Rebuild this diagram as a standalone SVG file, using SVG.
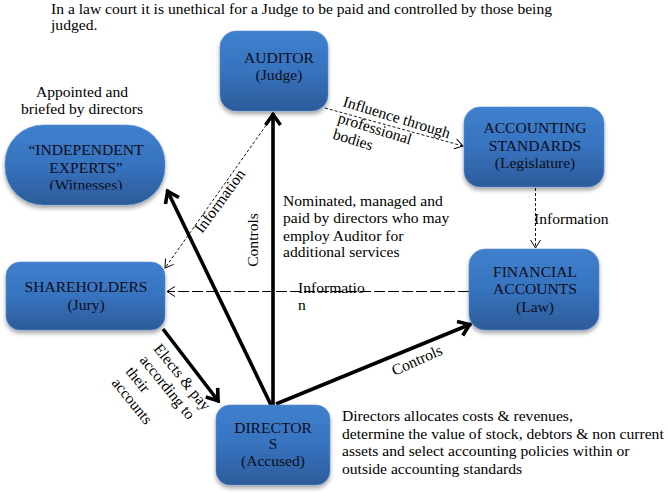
<svg xmlns="http://www.w3.org/2000/svg" width="668" height="492" viewBox="0 0 668 492" font-family="'Liberation Serif', 'Times New Roman', serif">
<style>
  text { font-family: "Liberation Serif", "Times New Roman", serif; font-size: 15.6px; fill: #000; }
  .box { fill: url(#blue); stroke: #5a8fd0; stroke-width: 0.6; filter: url(#sh); }
  .lbl { fill: #0d0d1a; text-anchor: middle; }
  .thick { stroke: #000; stroke-width: 3.6; fill: none; marker-end: url(#ah); }
  .dash { stroke: #000; stroke-width: 0.9; fill: none; stroke-dasharray: 3 2; marker-end: url(#ta); }
  .ldash { stroke: #000; stroke-width: 1; fill: none; stroke-dasharray: 11 3; marker-end: url(#ta); }
</style>
<defs>
  <linearGradient id="blue" x1="0" y1="0" x2="0" y2="1">
    <stop offset="0" stop-color="#3f80cd"/>
    <stop offset="0.5" stop-color="#3773bf"/>
    <stop offset="1" stop-color="#2c5b99"/>
  </linearGradient>
  <filter id="sh" x="-10%" y="-10%" width="120%" height="130%">
    <feGaussianBlur in="SourceAlpha" stdDeviation="2"/>
    <feOffset dy="3" result="o"/>
    <feComponentTransfer><feFuncA type="linear" slope="0.35"/></feComponentTransfer>
    <feMerge><feMergeNode/><feMergeNode in="SourceGraphic"/></feMerge>
  </filter>
  <marker id="ah" markerUnits="userSpaceOnUse" markerWidth="30" markerHeight="30" viewBox="-15 -15 30 30" refX="0" refY="0" orient="auto" overflow="visible">
    <path d="M-12,-7.5 L-1.5,0 L-12,7.5" fill="none" stroke="#000" stroke-width="3.6"/>
  </marker>
  <marker id="ta" markerUnits="userSpaceOnUse" markerWidth="20" markerHeight="20" viewBox="-10 -10 20 20" refX="0" refY="0" orient="auto" overflow="visible">
    <path d="M-8,-5 L0,0 L-8,5" fill="none" stroke="#000" stroke-width="1"/>
  </marker>
  <clipPath id="clipIE"><rect x="0" y="120" width="170" height="69.5"/></clipPath>
</defs>

<text x="51" y="14">In a law court it is unethical for a Judge to be paid and controlled by those being</text>
<text x="51" y="30">judged.</text>
<text x="82" y="97" text-anchor="middle">Appointed and</text>
<text x="82" y="114" text-anchor="middle">briefed by directors</text>

<g id="connectors">
  <line class="thick" x1="273" y1="405" x2="273" y2="113"/>
  <line class="thick" x1="271" y1="405" x2="167" y2="190"/>
  <line class="thick" x1="276" y1="404" x2="471" y2="324"/>
  <line class="thick" x1="163" y1="329" x2="219" y2="402"/>
  <line class="dash" x1="325" y1="108" x2="463" y2="146"/>
  <line class="dash" x1="535.5" y1="188" x2="535.5" y2="248"/>
  <line class="dash" x1="272" y1="117" x2="165" y2="268"/>
  <line class="ldash" x1="469" y1="291.5" x2="167" y2="291.5"/>
</g>

<g id="auditor">
  <rect class="box" x="220" y="31" width="108" height="80" rx="16"/>
  <text class="lbl" x="279" y="63">AUDITOR</text>
  <text class="lbl" x="279" y="80">(Judge)</text>
</g>
<g id="experts">
  <rect class="box" x="5" y="125" width="160" height="80" rx="38"/>
  <g clip-path="url(#clipIE)">
    <text class="lbl" x="86" y="155">“INDEPENDENT</text>
    <text class="lbl" x="86" y="173">EXPERTS”</text>
    <text class="lbl" x="86" y="190">(Witnesses)</text>
  </g>
</g>
<g id="shareholders">
  <rect class="box" x="6" y="262" width="159" height="68" rx="14"/>
  <text class="lbl" x="86" y="292">SHAREHOLDERS</text>
  <text class="lbl" x="86" y="310">(Jury)</text>
</g>
<g id="standards">
  <rect class="box" x="464" y="107" width="140" height="80" rx="16"/>
  <text class="lbl" x="535" y="133">ACCOUNTING</text>
  <text class="lbl" x="535" y="151">STANDARDS</text>
  <text class="lbl" x="535" y="168">(Legislature)</text>
</g>
<g id="financial">
  <rect class="box" x="469" y="249" width="130" height="81" rx="16"/>
  <text class="lbl" x="535" y="277">FINANCIAL</text>
  <text class="lbl" x="535" y="294">ACCOUNTS</text>
  <text class="lbl" x="535" y="312">(Law)</text>
</g>
<g id="directors">
  <rect class="box" x="216" y="405" width="114" height="80" rx="14"/>
  <text class="lbl" x="273" y="433">DIRECTOR</text>
  <text class="lbl" x="273" y="449">S</text>
  <text class="lbl" x="273" y="466">(Accused)</text>
</g>

<g id="labels">
  <g transform="translate(342,106) rotate(17)">
    <text x="0" y="0">Influence through</text>
    <text x="0" y="17">professional</text>
    <text x="0" y="34">bodies</text>
  </g>
  <text transform="translate(224,204) rotate(-54)" text-anchor="middle">Information</text>
  <text transform="translate(258,240) rotate(-90)" text-anchor="middle">Controls</text>
  <text x="283" y="206">Nominated, managed and</text>
  <text x="283" y="223">paid by directors who may</text>
  <text x="283" y="241">employ Auditor for</text>
  <text x="283" y="257">additional services</text>
  <text x="534" y="224">Information</text>
  <text x="298" y="293">Informatio</text>
  <text x="298" y="310">n</text>
  <g transform="translate(153,349) rotate(51)">
    <text x="0" y="0">Elects &amp; pay</text>
    <text x="0" y="18">according to</text>
    <text x="0" y="36">their</text>
    <text x="0" y="54">accounts</text>
  </g>
  <text transform="translate(419,365) rotate(-24)" text-anchor="middle">Controls</text>
  <text x="342" y="421">Directors allocates costs &amp; revenues,</text>
  <text x="342" y="439">determine the value of stock, debtors &amp; non current</text>
  <text x="342" y="456">assets and select accounting policies within or</text>
  <text x="342" y="474">outside accounting standards</text>
</g>
</svg>
